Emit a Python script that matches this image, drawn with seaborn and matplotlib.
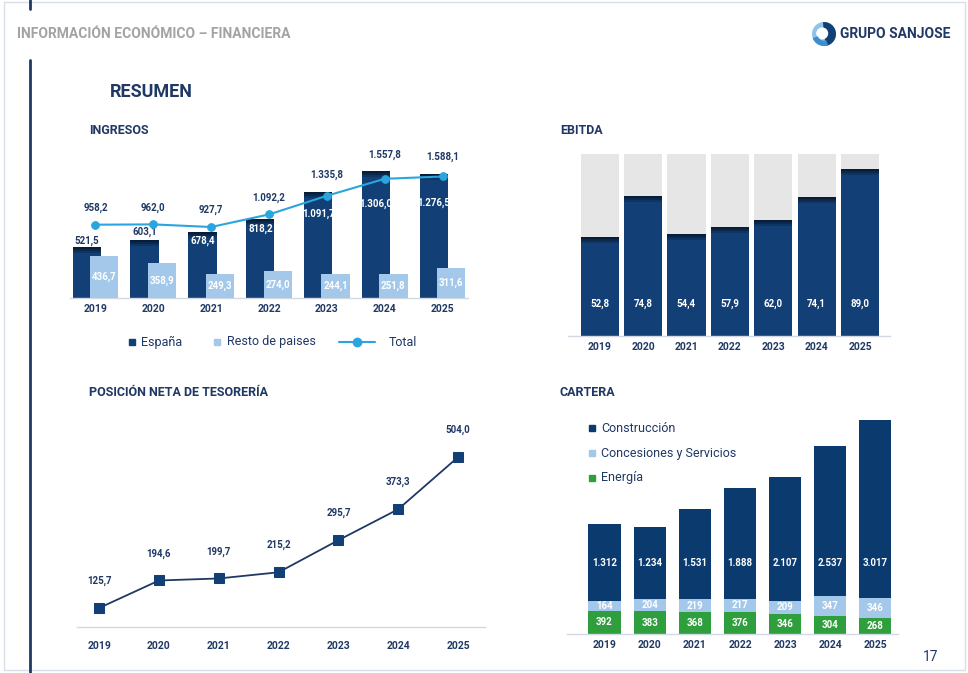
import numpy as np
import matplotlib
matplotlib.use("Agg")
import matplotlib.pyplot as plt
from matplotlib.lines import Line2D
from matplotlib.patches import Rectangle, Circle, Wedge
import seaborn as sns

YEARS = ["2019", "2020", "2021", "2022", "2023", "2024", "2025"]

# INGRESOS
ESPANA = [521.5, 603.1, 678.4, 818.2, 1091.7, 1306.0, 1276.5]
RESTO = [436.7, 358.9, 249.3, 274.0, 244.1, 251.8, 311.6]
TOTAL = [958.2, 962.0, 927.7, 1092.2, 1335.8, 1557.8, 1588.1]

# EBITDA
EBITDA = [52.8, 74.8, 54.4, 57.9, 62.0, 74.1, 89.0]
EBITDA_CAP = 97.0

# POSICION NETA DE TESORERIA
TESORERIA = [125.7, 194.6, 199.7, 215.2, 295.7, 373.3, 504.0]

# CARTERA
CONSTRUCCION = [1312, 1234, 1531, 1888, 2107, 2537, 3017]
CONCESIONES = [164, 204, 219, 217, 209, 347, 346]
ENERGIA = [392, 383, 368, 376, 346, 304, 268]

NAVY = "#123f75"
NAVY_TXT = "#1f3864"
DARK_TOP = "#061427"
LIGHT = "#a3c8ea"
CYAN = "#2aa5dd"
GREEN = "#2f9e3c"
GREY_BAR = "#e6e6e6"
AXIS_LINE = "#d3d9e2"

W, H = 968, 673

sns.set_style("white")
plt.rcParams["font.family"] = ["Roboto", "DejaVu Sans"]

fig = plt.figure(figsize=(W / 100, H / 100), dpi=100)
fig.patch.set_facecolor("white")


def px_axes(left, top, right, bottom):
    return fig.add_axes([left / W, 1 - bottom / H, (right - left) / W, (bottom - top) / H])


def es(v, dec=1):
    s = f"{v:,.{dec}f}"
    return s.replace(",", "X").replace(".", ",").replace("X", ".")


def clean(ax, pad):
    for s in ["top", "right", "left"]:
        ax.spines[s].set_visible(False)
    ax.spines["bottom"].set_color(AXIS_LINE)
    ax.spines["bottom"].set_linewidth(1)
    ax.set_yticks([])
    ax.set_xlabel("")
    ax.set_ylabel("")
    ax.tick_params(axis="x", length=0, pad=pad, labelsize=7.5, colors=NAVY_TXT)
    for t in ax.get_xticklabels():
        t.set_fontweight("bold")
    ax.set_facecolor("none")


def top_shade(ax, x, tops, width, px_per_unit, zorder=2.5):
    # darker gradient along the top edge of each bar
    tops = np.array(tops)
    for h_px, a in [(6, 0.25), (4, 0.35), (2, 0.5)]:
        h = h_px / px_per_unit
        ax.bar(x, [h] * len(tops), bottom=tops - h, width=width, color=DARK_TOP,
               alpha=a, lw=0, zorder=zorder)


def ftext(x, y, s, **kw):
    fig.text(x / W, 1 - y / H, s, **kw)


BAR_KW = dict(saturation=1, errorbar=None, linewidth=0)

# ---------------- page frame ----------------
fig.add_artist(Rectangle((4 / W, 1 - 670 / H), 961 / W, 668 / H, transform=fig.transFigure,
                         fill=False, edgecolor="#d8dee6", lw=1))
fig.add_artist(Line2D([30 / W, 30 / W], [1 - 60 / H, 0], transform=fig.transFigure,
                      color=NAVY_TXT, lw=2))
fig.add_artist(Line2D([30 / W, 30 / W], [1, 1 - 9 / H], transform=fig.transFigure,
                      color=NAVY_TXT, lw=2))
ftext(17, 34, "INFORMACIÓN ECONÓMICO – FINANCIERA", color="#a3a3a3", fontsize=10,
      fontweight="bold", va="center", ha="left")

# logo mark
lax = px_axes(812, 22, 836, 46)
lax.set_xlim(-1, 1)
lax.set_ylim(-1, 1)
lax.set_aspect("equal")
lax.axis("off")
lax.add_patch(Circle((0, 0), 1, color="#8fc3ea", ec="none"))
lax.add_patch(Wedge((0, 0), 1, -80, 95, color=NAVY, ec="none"))
lax.add_patch(Circle((-0.15, 0.05), 0.5, color="white", ec="none"))
lax.add_patch(Wedge((0, 0), 1, 200, 290, width=0.45, color="#3b8fd0", ec="none"))
ftext(840, 34, "GRUPO SANJOSE", color=NAVY_TXT, fontsize=10, fontweight="bold",
      va="center", ha="left")

ftext(110, 92, "RESUMEN", color=NAVY_TXT, fontsize=13, fontweight="bold", va="center")
for x, y, s in [(89, 131, "INGRESOS"), (560, 131, "EBITDA"),
                (89, 393, "POSICIÓN NETA DE TESORERÍA"), (560, 393, "CARTERA")]:
    ftext(x, y, s, color=NAVY_TXT, fontsize=9, fontweight="bold", va="center")
ftext(931, 657, "17", color=NAVY_TXT, fontsize=10, va="center", ha="center")

# ---------------- INGRESOS ----------------
ax = px_axes(70, 140, 468, 298)
pos = np.arange(len(YEARS))
bar_top = 1629
tot_top = 2065
ax_h = 298 - 140
sc_bar = ax_h / bar_top
sc_tot = ax_h / tot_top

sns.barplot(x=pos - 0.15, y=ESPANA, native_scale=True, width=0.49, color=NAVY,
            ax=ax, zorder=2, **BAR_KW)
top_shade(ax, pos - 0.15, ESPANA, 0.49, sc_bar)
sns.barplot(x=pos + 0.15, y=RESTO, native_scale=True, width=0.49, color=LIGHT,
            ax=ax, zorder=3, **BAR_KW)
ax.set_xlim(-0.44, 6.44)
ax.set_ylim(0, bar_top)
ax.set_xticks(pos)
ax.set_xticklabels(YEARS)
clean(ax, 4)

ESP_LABEL_DY = [-7, -8, 9, 10, 22, 32, 29]
for i, (v, dy) in enumerate(zip(ESPANA, ESP_LABEL_DY)):
    ax.annotate(es(v), xy=(i - 0.15, v), xytext=(0, -dy), textcoords="offset pixels",
                ha="center", va="center", fontsize=7, fontweight="bold",
                color=NAVY_TXT if dy < 0 else "white", zorder=6)
for i, v in enumerate(RESTO):
    ax.annotate(es(v), xy=(i + 0.15, v / 2), ha="center", va="center", fontsize=7,
                fontweight="bold", color="white", zorder=6)

ax2 = ax.twinx()
sns.lineplot(x=pos, y=TOTAL, ax=ax2, color=CYAN, lw=1.5, marker="o", markersize=5.5,
             markeredgecolor=CYAN, zorder=5)
ax2.set_ylim(0, tot_top)
ax2.set_xlim(-0.44, 6.44)
ax2.axis("off")
for i, (t, e) in enumerate(zip(TOTAL, ESPANA)):
    h = max(t * sc_tot, e * sc_bar) + 17
    ax.annotate(es(t), xy=(i, 0), xytext=(0, h), textcoords="offset pixels",
                ha="center", va="center", fontsize=7, fontweight="bold",
                color=NAVY_TXT, zorder=6)

# legend
leg_y = 342
fig.add_artist(Line2D([132 / W], [1 - leg_y / H], transform=fig.transFigure, marker="s",
                      markersize=4, color=NAVY, ls="none"))
ftext(141, leg_y, "España", color=NAVY_TXT, fontsize=9, va="center")
fig.add_artist(Line2D([217 / W], [1 - leg_y / H], transform=fig.transFigure, marker="s",
                      markersize=4, color=LIGHT, ls="none"))
ftext(227, leg_y, "Resto de paises", color=NAVY_TXT, fontsize=9, va="center")
fig.add_artist(Line2D([339 / W, 375 / W], [1 - leg_y / H] * 2, transform=fig.transFigure,
                      color=CYAN, lw=1.5))
fig.add_artist(Line2D([357 / W], [1 - leg_y / H], transform=fig.transFigure, marker="o",
                      markersize=6, color=CYAN, ls="none"))
ftext(389, leg_y, "Total", color=NAVY_TXT, fontsize=9, va="center")

# ---------------- EBITDA ----------------
ax = px_axes(568, 140, 890, 336)
sc_e = 1.875
e_top = (336 - 140) / sc_e
sns.barplot(x=YEARS, y=[EBITDA_CAP] * len(YEARS), color=GREY_BAR, width=0.88, ax=ax, **BAR_KW)
sns.barplot(x=YEARS, y=EBITDA, color=NAVY, width=0.88, ax=ax, **BAR_KW)
top_shade(ax, pos, EBITDA, 0.88, sc_e)
ax.set_xlim(-0.73, 6.69)
ax.set_ylim(0, e_top)
clean(ax, 4.5)
for i, v in enumerate(EBITDA):
    ax.annotate(es(v), xy=(i, 0), xytext=(0, 32), textcoords="offset pixels",
                ha="center", va="center", fontsize=7, fontweight="bold", color="white")

# ---------------- TESORERIA ----------------
ax = px_axes(77, 420, 485, 627)
sns.lineplot(x=pos, y=TESORERIA, ax=ax, color=NAVY_TXT, lw=1.3, marker="s",
             markersize=6.5, markeredgecolor=NAVY, markerfacecolor=NAVY)
ax.set_xlim(-0.37, 6.45)
ax.set_ylim(78, 597)
ax.set_xticks(pos)
ax.set_xticklabels(YEARS)
clean(ax, 10)
for i, v in enumerate(TESORERIA):
    ax.annotate(es(v), xy=(i, v), xytext=(0, 27), textcoords="offset pixels",
                ha="center", va="center", fontsize=7, fontweight="bold", color=NAVY_TXT)

# ---------------- CARTERA ----------------
ax = px_axes(567, 410, 898, 634)
c_top = (634 - 410) / 0.0589
energia = np.array(ENERGIA)
conces = energia + np.array(CONCESIONES)
total = conces + np.array(CONSTRUCCION)
sns.barplot(x=YEARS, y=total, color="#0b3a6f", width=0.71, ax=ax, **BAR_KW)
sns.barplot(x=YEARS, y=conces, color=LIGHT, width=0.71, ax=ax, **BAR_KW)
sns.barplot(x=YEARS, y=energia, color=GREEN, width=0.71, ax=ax, **BAR_KW)
ax.set_xlim(-0.83, 6.5)
ax.set_ylim(0, c_top)
clean(ax, 4)
for i in range(len(YEARS)):
    ax.annotate(es(CONSTRUCCION[i], 0), xy=(i, 0), xytext=(0, 71), textcoords="offset pixels",
                ha="center", va="center", fontsize=7, fontweight="bold", color="white")
    ax.annotate(str(CONCESIONES[i]), xy=(i, (energia[i] + conces[i]) / 2), ha="center",
                va="center", fontsize=7, fontweight="bold", color="white")
    ax.annotate(str(ENERGIA[i]), xy=(i, energia[i] / 2), ha="center", va="center",
                fontsize=7, fontweight="bold", color="white")

for y, s, c in [(428, "Construcción", "#0b3a6f"), (453, "Concesiones y Servicios", LIGHT),
                (478, "Energía", GREEN)]:
    fig.add_artist(Line2D([592 / W], [1 - y / H], transform=fig.transFigure, marker="s",
                          markersize=4, color=c, ls="none"))
    ftext(601, y, s, color=NAVY_TXT, fontsize=9, va="center")

fig.savefig("out.png", dpi=100, facecolor="white")
